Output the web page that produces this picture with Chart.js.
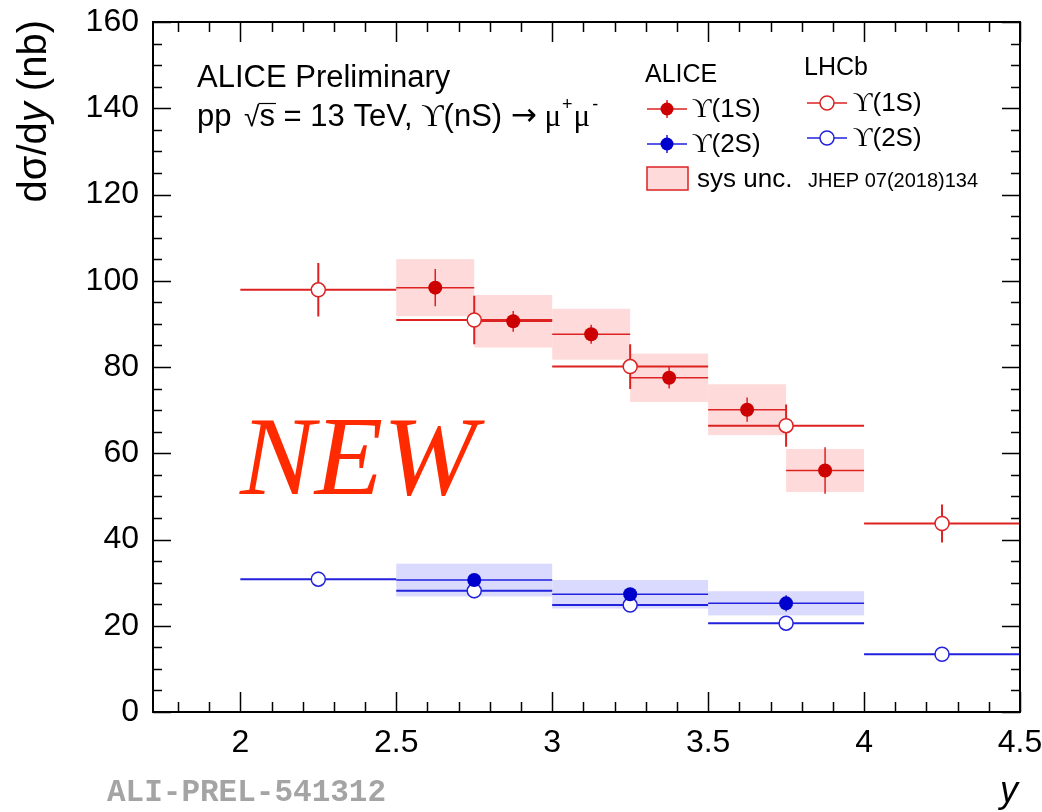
<!DOCTYPE html>
<html>
<head>
<meta charset="utf-8">
<title>Upsilon dsigma/dy</title>
<script src="https://cdn.jsdelivr.net/npm/chart.js@4.4.1/dist/chart.umd.min.js"></script>
<style>
  html, body { margin: 0; padding: 0; background: #fff; }
  #wrap { width: 1042px; height: 812px; }
</style>
</head>
<body>
<div id="wrap"><canvas id="upsChart" width="1042" height="812"></canvas></div>
<script>
// ALICE Upsilon(1S), bins of 0.25 in y
const alice1SLo = [2.5, 2.75, 3.0, 3.25, 3.5, 3.75];
const alice1SHi = [2.75, 3.0, 3.25, 3.5, 3.75, 4.0];
const alice1SX = [2.625, 2.875, 3.125, 3.375, 3.625, 3.875];
const alice1S = [98.4, 90.6, 87.6, 77.5, 70.1, 56.0];
const alice1SStat = [4.3, 2.4, 2.2, 2.5, 2.8, 5.4];
const alice1SSys = [6.6, 6.1, 5.9, 5.6, 5.9, 5.0];

// ALICE Upsilon(2S), bins of 0.5
const alice2SLo = [2.5, 3.0, 3.5];
const alice2SHi = [3.0, 3.5, 4.0];
const alice2SX = [2.75, 3.25, 3.75];
const alice2S = [30.6, 27.3, 25.2];
const alice2SStat = [1.2, 1.2, 1.9];
const alice2SSys = [3.8, 3.3, 2.8];

// LHCb, JHEP 07(2018)134
const lhcbLo = [2.0, 2.5, 3.0, 3.5, 4.0];
const lhcbHi = [2.5, 3.0, 3.5, 4.0, 4.5];
const lhcbX = [2.25, 2.75, 3.25, 3.75, 4.25];
const lhcb1S = [97.9, 90.9, 80.1, 66.4, 43.7];
const lhcb1SErr = [6.2, 5.6, 5.2, 4.9, 4.4];
const lhcb2S = [30.8, 28.1, 24.8, 20.6, 13.4];
const lhcb2SErr = [1.7, 1.7, 1.5, 1.5, 1.1];

// axes
const xMin = 1.72, xMax = 4.5, xStep = 0.5, xMinor = 0.1;
const yMin = 0, yMax = 160, yStep = 20, yMinor = 5;

const RED = '#cc0000', RED_LINE = '#dd2222', RED_BOX = '#ffdada';
const BLUE = '#0000cc', BLUE_LINE = '#2222dd', BLUE_BOX = '#dadaff';
const SANS = "'Liberation Sans', Arial, sans-serif";
const GREEK = "'Liberation Serif', 'DejaVu Serif', serif";

function pts(xs, ys) {
    return xs.map((x, i) => ({ x: x, y: ys[i] }));
}

function marker(ctx, x, y, filled, color) {
    ctx.beginPath();
    ctx.arc(x, y, filled ? 6.5 : 7, 0, Math.PI * 2);
    if (filled) {
        ctx.fillStyle = color;
        ctx.fill();
    } else {
        ctx.fillStyle = '#fff';
        ctx.fill();
        ctx.lineWidth = 1.5;
        ctx.strokeStyle = color;
        ctx.stroke();
    }
}

function text(ctx, str, x, y, font, color) {
    ctx.font = font;
    ctx.fillStyle = color || '#000';
    ctx.fillText(str, x, y);
    return x + ctx.measureText(str).width;
}

// error bars, sys boxes, frame, inner ticks, labels and legend
const hepPlugin = {
    id: 'hep',
    beforeDatasetsDraw(chart) {
        const { ctx } = chart;
        const xs = chart.scales.x, ys = chart.scales.y;
        ctx.save();
        chart.data.datasets.forEach(ds => {
            if (!ds.sys) return;
            ctx.fillStyle = ds.boxColor;
            ds.data.forEach((p, i) => {
                const x0 = xs.getPixelForValue(ds.binLo[i]);
                const x1 = xs.getPixelForValue(ds.binHi[i]);
                const y0 = ys.getPixelForValue(p.y + ds.sys[i]);
                const y1 = ys.getPixelForValue(p.y - ds.sys[i]);
                ctx.fillRect(x0, y0, x1 - x0, y1 - y0);
            });
        });
        chart.data.datasets.forEach(ds => {
            ctx.strokeStyle = ds.errColor;
            ctx.lineWidth = ds.errWidth;
            ds.data.forEach((p, i) => {
                const px = xs.getPixelForValue(p.x);
                const py = ys.getPixelForValue(p.y);
                ctx.beginPath();
                ctx.moveTo(xs.getPixelForValue(ds.binLo[i]), py);
                ctx.lineTo(xs.getPixelForValue(ds.binHi[i]), py);
                ctx.moveTo(px, ys.getPixelForValue(p.y + ds.stat[i]));
                ctx.lineTo(px, ys.getPixelForValue(p.y - ds.stat[i]));
                ctx.stroke();
            });
        });
        ctx.restore();
    },
    afterDraw(chart) {
        const { ctx, chartArea: a } = chart;
        const xs = chart.scales.x, ys = chart.scales.y;
        ctx.save();

        // frame
        ctx.strokeStyle = '#000';
        ctx.lineWidth = 2;
        ctx.strokeRect(a.left, a.top, a.right - a.left, a.bottom - a.top);

        // ticks inside, on all four sides
        ctx.lineWidth = 1.5;
        ctx.beginPath();
        const nx0 = Math.ceil(xMin / xMinor - 1e-6), nx1 = Math.floor(xMax / xMinor + 1e-6);
        for (let k = nx0; k <= nx1; k++) {
            const v = k * xMinor;
            const major = Math.abs(v / xStep - Math.round(v / xStep)) < 1e-6;
            const len = major ? 20 : 10;
            const px = Math.round(xs.getPixelForValue(v)) + 0.5;
            ctx.moveTo(px, a.bottom); ctx.lineTo(px, a.bottom - len);
            ctx.moveTo(px, a.top); ctx.lineTo(px, a.top + len);
        }
        for (let v = yMin; v <= yMax; v += yMinor) {
            const len = v % yStep === 0 ? 18 : 9;
            const py = Math.round(ys.getPixelForValue(v)) + 0.5;
            ctx.moveTo(a.left, py); ctx.lineTo(a.left + len, py);
            ctx.moveTo(a.right, py); ctx.lineTo(a.right - len, py);
        }
        ctx.stroke();

        ctx.textBaseline = 'alphabetic';
        ctx.textAlign = 'left';

        // y axis title, rotated
        const tf = '40px ' + SANS, tfi = 'italic 40px ' + SANS;
        ctx.save();
        ctx.font = tf;
        const w1 = ctx.measureText('d\u03c3/d').width;
        const w3 = ctx.measureText(' (nb)').width;
        ctx.font = tfi;
        const w2 = ctx.measureText('y').width;
        ctx.translate(46, 20 + w1 + w2 + w3);
        ctx.rotate(-Math.PI / 2);
        let tx = text(ctx, 'd\u03c3/d', 0, 0, tf);
        tx = text(ctx, 'y', tx, 0, tfi);
        text(ctx, ' (nb)', tx, 0, tf);
        ctx.restore();

        // x axis title
        text(ctx, 'y', 1000, 802, 'italic 36px ' + SANS);

        // watermark id
        text(ctx, 'ALI-PREL-541312', 107, 801, 'bold 31px "Liberation Mono", monospace', '#a4a4a4');

        // header
        text(ctx, 'ALICE Preliminary', 197, 87, '31px ' + SANS);
        let hx = text(ctx, 'pp ', 197, 126, '31px ' + SANS);
        hx = text(ctx, '\u221a', hx + 4, 126, '28px ' + SANS);
        const sx = hx;
        hx = text(ctx, 's', hx, 126, '31px ' + SANS);
        ctx.lineWidth = 1.2;
        ctx.beginPath();
        ctx.moveTo(sx - 1, 103.5); ctx.lineTo(hx + 1, 103.5);
        ctx.stroke();
        hx = text(ctx, ' = 13 TeV, ', hx, 126, '31px ' + SANS);
        hx = text(ctx, '\u03d2', hx, 126, '31px ' + GREEK);
        hx = text(ctx, '(nS) ', hx, 126, '31px ' + SANS);
        hx = text(ctx, '\u2192', hx, 125, '31px "DejaVu Sans", sans-serif');
        hx = text(ctx, ' \u03bc', hx, 126, '31px ' + GREEK);
        hx = text(ctx, '+', hx + 1, 110, '18px ' + SANS);
        hx = text(ctx, '\u03bc', hx + 1, 126, '31px ' + GREEK);
        text(ctx, '-', hx + 2, 110, '18px ' + SANS);

        // legend
        const lf = '26px ' + SANS;
        text(ctx, 'ALICE', 645, 82, '25px ' + SANS);
        text(ctx, 'LHCb', 804, 75, '25px ' + SANS);

        const legRows = [
            { x: 667, y: 109, filled: true, line: RED_LINE, col: RED, lab: '(1S)', tx: 692, err: 9 },
            { x: 667, y: 144, filled: true, line: BLUE_LINE, col: BLUE, lab: '(2S)', tx: 692, err: 9 },
            { x: 827, y: 103, filled: false, line: RED_LINE, col: RED_LINE, lab: '(1S)', tx: 853, err: 7 },
            { x: 827, y: 138, filled: false, line: BLUE_LINE, col: BLUE_LINE, lab: '(2S)', tx: 853, err: 7 }
        ];
        legRows.forEach(r => {
            ctx.strokeStyle = r.line;
            ctx.lineWidth = 1.5;
            ctx.beginPath();
            ctx.moveTo(r.x - 20, r.y); ctx.lineTo(r.x + 20, r.y);
            ctx.moveTo(r.x, r.y - r.err); ctx.lineTo(r.x, r.y + r.err);
            ctx.stroke();
            marker(ctx, r.x, r.y, r.filled, r.col);
            const ux = text(ctx, '\u03d2', r.tx, r.y + 8, '27px ' + GREEK);
            text(ctx, r.lab, ux, r.y + 8, lf);
        });

        ctx.fillStyle = RED_BOX;
        ctx.fillRect(647, 167, 41, 23);
        ctx.strokeStyle = RED_LINE;
        ctx.lineWidth = 1.5;
        ctx.strokeRect(647, 167, 41, 23);
        text(ctx, 'sys unc.', 697, 187, lf);
        text(ctx, 'JHEP 07(2018)134', 808, 187, '20px ' + SANS);

        // stamp
        text(ctx, 'NEW', 240, 494, 'italic 112px "Liberation Serif", serif', '#ff2a00');

        ctx.restore();
    }
};

const datasets = [
    {
        label: 'ALICE Y(1S)',
        data: pts(alice1SX, alice1S),
        binLo: alice1SLo, binHi: alice1SHi, stat: alice1SStat, sys: alice1SSys,
        boxColor: RED_BOX, errColor: RED_LINE, errWidth: 1.5,
        pointRadius: 7, pointBackgroundColor: RED, pointBorderColor: RED, pointBorderWidth: 0,
        showLine: false
    },
    {
        label: 'ALICE Y(2S)',
        data: pts(alice2SX, alice2S),
        binLo: alice2SLo, binHi: alice2SHi, stat: alice2SStat, sys: alice2SSys,
        boxColor: BLUE_BOX, errColor: BLUE_LINE, errWidth: 1.5,
        pointRadius: 7, pointBackgroundColor: BLUE, pointBorderColor: BLUE, pointBorderWidth: 0,
        showLine: false
    },
    {
        label: 'LHCb Y(1S)',
        data: pts(lhcbX, lhcb1S),
        binLo: lhcbLo, binHi: lhcbHi, stat: lhcb1SErr,
        errColor: RED_LINE, errWidth: 2,
        pointRadius: 7, pointBackgroundColor: '#fff', pointBorderColor: RED_LINE, pointBorderWidth: 1.5,
        showLine: false
    },
    {
        label: 'LHCb Y(2S)',
        data: pts(lhcbX, lhcb2S),
        binLo: lhcbLo, binHi: lhcbHi, stat: lhcb2SErr,
        errColor: BLUE_LINE, errWidth: 2,
        pointRadius: 7, pointBackgroundColor: '#fff', pointBorderColor: BLUE_LINE, pointBorderWidth: 1.5,
        showLine: false
    }
];

const chart = new Chart(document.getElementById('upsChart'), {
    type: 'scatter',
    data: { datasets: datasets },
    options: {
        responsive: false,
        animation: false,
        devicePixelRatio: 1,
        layout: { padding: { top: 22, right: 22, left: 0, bottom: 0 } },
        plugins: { legend: { display: false }, tooltip: { enabled: false } },
        elements: { point: { hoverRadius: 7 } },
        scales: {
            x: {
                type: 'linear',
                min: xMin, max: xMax,
                grid: { display: false, drawTicks: false },
                border: { display: false },
                ticks: {
                    stepSize: xStep, includeBounds: false, padding: 12,
                    color: '#000', font: { family: SANS, size: 32 },
                    callback: v => String(Number(v.toFixed(2)))
                },
                afterFit(scale) {
                    scale.height = 100;
                    scale.paddingLeft = 0;
                    scale.paddingRight = 0;
                }
            },
            y: {
                type: 'linear',
                min: yMin, max: yMax,
                grid: { display: false, drawTicks: false },
                border: { display: false },
                ticks: {
                    stepSize: yStep, padding: 14,
                    color: '#000', font: { family: SANS, size: 32 }
                },
                afterFit(scale) {
                    scale.width = 153;
                    scale.paddingTop = 0;
                    scale.paddingBottom = 0;
                }
            }
        }
    },
    plugins: [hepPlugin]
});
</script>
</body>
</html>
